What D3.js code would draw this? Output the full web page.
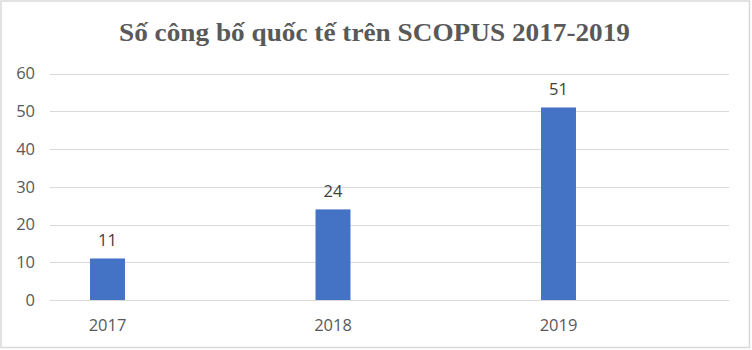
<!DOCTYPE html>
<html><head><meta charset="utf-8">
<script src="https://cdn.jsdelivr.net/npm/d3@7"></script>
<style>body{margin:0;background:#fff}</style>
</head><body>
<script>
const categories = ["2017", "2018", "2019"];
const values = [11, 24, 51];
const yTicks = [0, 10, 20, 30, 40, 50, 60];
const title = "Số công bố quốc tế trên SCOPUS 2017-2019";

const W = 752, H = 350;
const svg = d3.select("body").append("svg").attr("width", W).attr("height", H);
svg.append("rect").attr("x", 1).attr("y", 1).attr("width", 748.5).attr("height", 346.5)
  .attr("fill", "#fff").attr("stroke", "#d9d9d9").attr("stroke-width", 1.5);

const y = d3.scaleLinear().domain([0, 60]).range([300, 73.5]);
const x = d3.scaleBand().domain(categories).range([-5.25, 671.25]).paddingInner(0.845).paddingOuter(0.4225);
const gridX0 = 50, gridX1 = 729;

svg.append("g").selectAll("line").data(yTicks).join("line")
  .attr("x1", gridX0).attr("x2", gridX1)
  .attr("y1", d => Math.round(y(d)) + 0.5).attr("y2", d => Math.round(y(d)) + 0.5)
  .attr("stroke", "#d9d9d9").attr("stroke-width", 1);

const font = "'Open Sans', 'Liberation Sans', Arial, sans-serif";
const fs = 16.5;
svg.append("g").selectAll("text").data(yTicks).join("text")
  .attr("x", 35).attr("y", d => y(d)).attr("dy", "0.35em")
  .attr("text-anchor", "end").attr("font-family", font).attr("font-size", fs)
  .attr("fill", "#595959").text(d => d);

const cx = d => x(d) + x.bandwidth() / 2;
svg.append("g").selectAll("rect").data(categories).join("rect")
  .attr("x", d => x(d)).attr("width", x.bandwidth())
  .attr("y", (d, i) => y(values[i])).attr("height", (d, i) => y(0) - y(values[i]))
  .attr("fill", "#4472C4");

svg.append("g").selectAll("text").data(categories).join("text")
  .attr("x", cx).attr("y", (d, i) => y(values[i]) - 18).attr("dy", "0.35em")
  .attr("text-anchor", "middle").attr("font-family", font).attr("font-size", fs)
  .attr("fill", "#404040").text((d, i) => values[i]);

svg.append("g").selectAll("text").data(categories).join("text")
  .attr("x", cx).attr("y", 325).attr("dy", "0.35em")
  .attr("text-anchor", "middle").attr("font-family", font).attr("font-size", fs)
  .attr("fill", "#595959").text(d => d);

svg.append("text").attr("x", 374.5).attr("y", 41)
  .attr("text-anchor", "middle").attr("font-family", "'Liberation Serif', 'Times New Roman', serif")
  .attr("font-weight", "bold").attr("font-size", 25).attr("fill", "#595959")
  .attr("textLength", 511).attr("lengthAdjust", "spacingAndGlyphs").text(title);
</script>
</body></html>
